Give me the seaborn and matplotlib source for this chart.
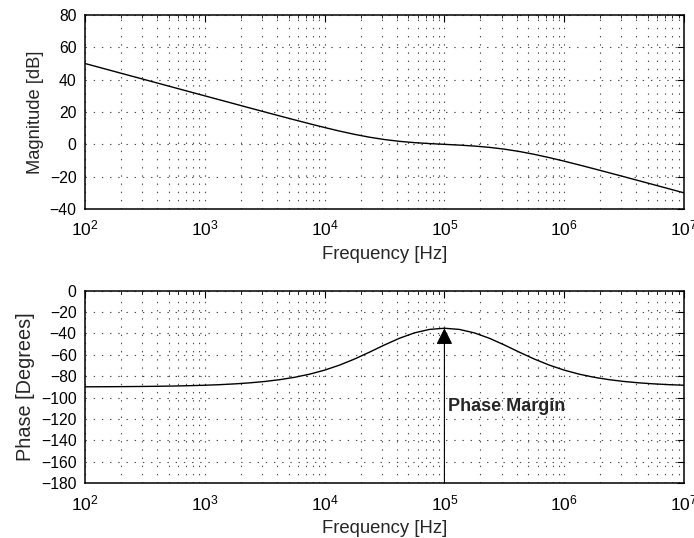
import numpy as np
import pandas as pd
import matplotlib
matplotlib.use("Agg")
import matplotlib.pyplot as plt
import seaborn as sns
from matplotlib.ticker import LogLocator, MultipleLocator, NullFormatter

# ---- data ----
freq_hz = [
    1.000e2, 1.334e2, 1.778e2, 2.371e2, 3.162e2, 4.217e2, 5.623e2, 7.499e2,
    1.000e3, 1.334e3, 1.778e3, 2.371e3, 3.162e3, 4.217e3, 5.623e3, 7.499e3,
    1.000e4, 1.334e4, 1.778e4, 2.371e4, 3.162e4, 4.217e4, 5.623e4, 7.499e4,
    1.000e5, 1.334e5, 1.778e5, 2.371e5, 3.162e5, 4.217e5, 5.623e5, 7.499e5,
    1.000e6, 1.334e6, 1.778e6, 2.371e6, 3.162e6, 4.217e6, 5.623e6, 7.499e6,
    1.000e7,
]
magnitude_db = [
    50.00, 47.50, 45.00, 42.50, 40.00, 37.50, 35.00, 32.50,
    30.00, 27.51, 25.01, 22.52, 20.04, 17.58, 15.14, 12.74,
    10.41, 8.20, 6.18, 4.41, 2.97, 1.86, 1.06, 0.47,
    0.00, -0.47, -1.06, -1.86, -2.97, -4.41, -6.18, -8.20,
    -10.41, -12.74, -15.14, -17.58, -20.04, -22.52, -25.01, -27.51,
    -30.00,
]
phase_deg = [
    -89.84, -89.78, -89.71, -89.61, -89.48, -89.31, -89.08, -88.78,
    -88.37, -87.83, -87.10, -86.14, -84.86, -83.17, -80.94, -78.02,
    -74.26, -69.54, -63.87, -57.43, -50.71, -44.46, -39.43, -36.21,
    -35.10, -36.21, -39.43, -44.46, -50.71, -57.43, -63.87, -69.54,
    -74.26, -78.02, -80.94, -83.17, -84.86, -86.14, -87.10, -87.83,
    -88.37,
]
margin_freq = 1e5
margin_top = -35.1
margin_label = "Phase Margin"

df = pd.DataFrame({"freq": freq_hz, "mag": magnitude_db, "phase": phase_deg})

sns.set_theme(style="white")
plt.rcParams["font.family"] = ["Liberation Sans", "DejaVu Sans"]
plt.rcParams["mathtext.fontset"] = "custom"
plt.rcParams["mathtext.rm"] = "Liberation Sans"
plt.rcParams["mathtext.it"] = "Liberation Sans:italic"
plt.rcParams["mathtext.bf"] = "Liberation Sans:bold"
plt.rcParams["lines.scale_dashes"] = False

fig = plt.figure(figsize=(6.94, 5.38), dpi=100)
ax1 = fig.add_axes([0.1225, 0.6115, 0.8631, 0.3606])
ax2 = fig.add_axes([0.1225, 0.1017, 0.8631, 0.3580])

sns.lineplot(data=df, x="freq", y="mag", ax=ax1, color="black", lw=1.0)
sns.lineplot(data=df, x="freq", y="phase", ax=ax2, color="black", lw=1.0)

grid_ls = (0, (1.0, 4.9))

def style(ax, ylim, ylabel, ylabel_size):
    ax.set_xscale("log")
    ax.set_xlim(1e2, 1e7)
    ax.set_ylim(*ylim)
    ax.xaxis.set_major_locator(LogLocator(base=10, numticks=10))
    ax.xaxis.set_minor_locator(LogLocator(base=10, subs=np.arange(2, 10), numticks=20))
    ax.xaxis.set_minor_formatter(NullFormatter())
    ax.yaxis.set_major_locator(MultipleLocator(20))
    ax.grid(True, which="major", axis="both", color="0.3",
            linestyle=grid_ls, lw=0.8)
    ax.grid(True, which="minor", axis="x", color="0.3",
            linestyle=grid_ls, lw=0.8)
    ax.tick_params(which="both", direction="in", top=True, right=True,
                   colors="black", pad=6)
    ax.tick_params(axis="x", labelsize=12.5, pad=7)
    ax.tick_params(axis="y", labelsize=11.3)
    ax.tick_params(which="major", length=5, width=0.8)
    ax.tick_params(which="minor", length=2.5, width=0.6)
    for s in ax.spines.values():
        s.set_color("black")
        s.set_linewidth(1.1)
    ax.set_xlabel("Frequency [Hz]", fontsize=13.3, labelpad=5)
    ax.set_ylabel(ylabel, fontsize=ylabel_size, labelpad=4)

style(ax1, (-40, 80), "Magnitude [dB]", 13.2)
style(ax2, (-180, 0), "Phase [Degrees]", 14.3)

ax2.annotate("", xy=(margin_freq, margin_top), xytext=(margin_freq, -180),
             arrowprops=dict(arrowstyle="-|>,head_length=0.5,head_width=0.25",
                             mutation_scale=20, color="black", lw=0.8,
                             shrinkA=0, shrinkB=0))
ax2.text(margin_freq * 1.08, -108, margin_label, fontsize=13,
         fontweight="bold", ha="left", va="center")

fig.savefig("out.png", dpi=100)
